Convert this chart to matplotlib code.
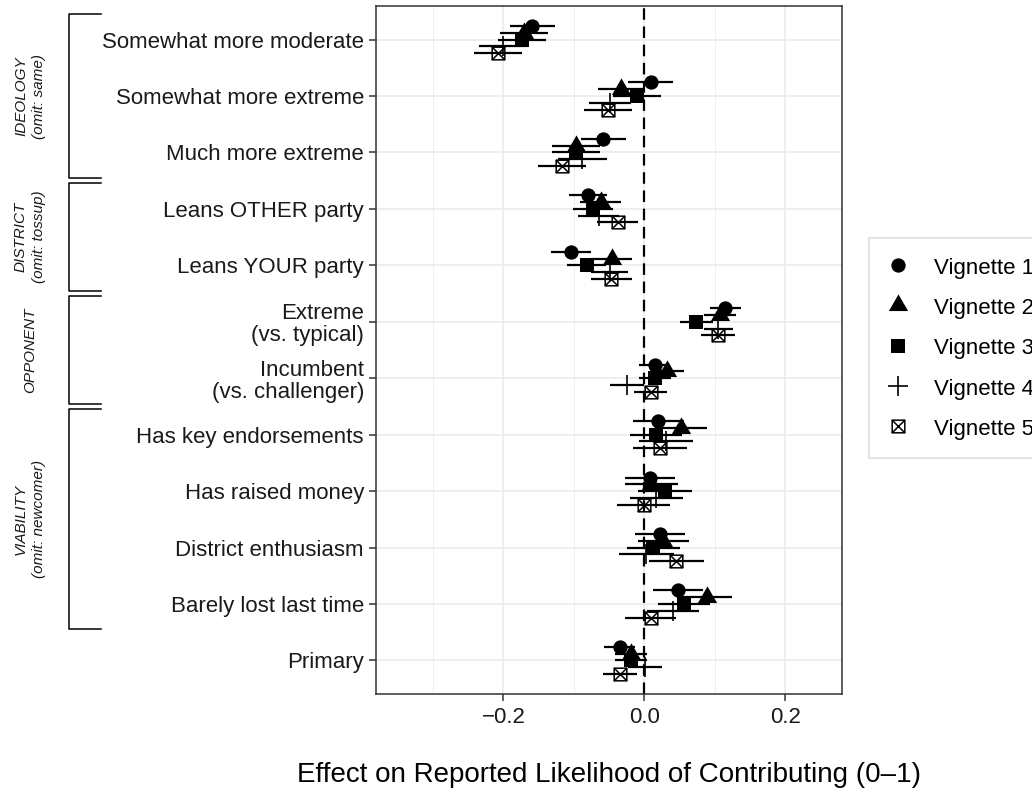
import matplotlib
matplotlib.use("Agg")
import matplotlib.pyplot as plt
import matplotlib.transforms as mtransforms
from matplotlib.path import Path
from matplotlib.lines import Line2D
import numpy as np

plt.rcParams['font.family'] = ['Liberation Sans', 'DejaVu Sans']

# attribute levels, top to bottom
categories = [
    "Somewhat more moderate",
    "Somewhat more extreme",
    "Much more extreme",
    "Leans OTHER party",
    "Leans YOUR party",
    "Extreme\n(vs. typical)",
    "Incumbent\n(vs. challenger)",
    "Has key endorsements",
    "Has raised money",
    "District enthusiasm",
    "Barely lost last time",
    "Primary",
]
vignette_labels = ["Vignette 1", "Vignette 2", "Vignette 3", "Vignette 4", "Vignette 5"]

# point estimates
est_v1 = [-0.159, 0.009, -0.058, -0.080, -0.104, 0.115, 0.015, 0.020, 0.008, 0.022, 0.048, -0.035]
est_v2 = [-0.171, -0.033, -0.097, -0.062, -0.046, 0.107, 0.032, 0.052, 0.010, 0.027, 0.089, -0.019]
est_v3 = [-0.174, -0.011, -0.097, -0.073, -0.082, 0.074, 0.015, 0.017, 0.029, 0.013, 0.056, -0.019]
est_v4 = [-0.200, -0.049, -0.088, -0.065, -0.049, 0.105, -0.024, 0.031, 0.017, 0.003, 0.041, 0.001]
est_v5 = [-0.207, -0.052, -0.117, -0.038, -0.047, 0.104, 0.009, 0.022, -0.001, 0.045, 0.009, -0.035]

# half-widths of the confidence intervals
ci_v1 = [0.032, 0.032, 0.032, 0.027, 0.028, 0.022, 0.022, 0.036, 0.036, 0.035, 0.035, 0.022]
ci_v2 = [0.034, 0.033, 0.034, 0.029, 0.029, 0.023, 0.024, 0.037, 0.038, 0.036, 0.036, 0.023]
ci_v3 = [0.034, 0.034, 0.034, 0.028, 0.028, 0.023, 0.023, 0.037, 0.038, 0.037, 0.037, 0.023]
ci_v4 = [0.034, 0.030, 0.035, 0.029, 0.026, 0.021, 0.024, 0.038, 0.038, 0.039, 0.037, 0.024]
ci_v5 = [0.034, 0.034, 0.034, 0.029, 0.029, 0.024, 0.023, 0.038, 0.038, 0.039, 0.036, 0.024]

estimates = [est_v1, est_v2, est_v3, est_v4, est_v5]
intervals = [ci_v1, ci_v2, ci_v3, ci_v4, ci_v5]

# bracket groups on the left: (label, first level, last level)
groups = [
    ("IDEOLOGY\n(omit: same)", 0, 2),
    ("DISTRICT\n(omit: tossup)", 3, 4),
    ("OPPONENT", 5, 6),
    ("VIABILITY\n(omit: newcomer)", 7, 10),
]

# square with an X inside (like R pch 7)
box_x = Path(
    [(-1, -1), (1, -1), (1, 1), (-1, 1), (-1, -1), (-1, -1), (1, 1), (-1, 1), (1, -1)],
    [Path.MOVETO, Path.LINETO, Path.LINETO, Path.LINETO, Path.CLOSEPOLY,
     Path.MOVETO, Path.LINETO, Path.MOVETO, Path.LINETO],
)

marker_styles = [
    dict(marker='o', ms=10.3, mfc='black', mec='black', mew=0),
    dict(marker=(3, 0, 0), ms=16, mfc='black', mec='black', mew=0),
    dict(marker='s', ms=9.4, mfc='black', mec='black', mew=0),
    dict(marker='+', ms=14.5, mfc='none', mec='black', mew=1.2),
    dict(marker=box_x, ms=9.1, mfc='none', mec='black', mew=1.1),
]

fig = plt.figure(figsize=(10.32, 7.94), dpi=100)
ax = fig.add_axes([0.3648, 0.1256, 0.4508, 0.8672])

ypos = np.arange(len(categories))
offsets = (np.arange(5) - 2) * 0.12

# zero reference line
ax.axvline(0, color='black', lw=1.6, dashes=(5.2, 3.0), zorder=2)

# horizontal confidence intervals
for k in range(5):
    est = np.array(estimates[k])
    ci = np.array(intervals[k])
    ax.hlines(ypos + offsets[k], est - ci, est + ci, color='black', lw=1.6, zorder=3)

# point estimates
for k in range(5):
    ax.plot(estimates[k], ypos + offsets[k], ls='none', zorder=4, **marker_styles[k])

ax.set_xlim(-0.38, 0.28)
ax.set_ylim(len(categories) - 0.4, -0.6)

ax.set_xticks([-0.2, 0.0, 0.2])
ax.set_xticklabels(["\u22120.2", "0.0", "0.2"])
ax.set_xticks([-0.3, -0.1, 0.1], minor=True)
ax.set_yticks(ypos)
ax.set_yticklabels(categories)

ax.tick_params(axis='both', which='major', length=5, width=1.1, color='#333333',
               labelsize=16, labelcolor='#1a1a1a', pad=4)
ax.tick_params(axis='x', which='minor', length=0)
for t in ax.get_yticklabels():
    t.set_linespacing(1.05)

ax.set_axisbelow(True)
ax.grid(which='major', color='#ebebeb', lw=1.2)
ax.grid(which='minor', axis='x', color='#ebebeb', lw=0.6)
for sp in ax.spines.values():
    sp.set_color('#333333')
    sp.set_linewidth(1.1)

ax.set_xlabel("Effect on Reported Likelihood of Contributing (0\u20131)", fontsize=20, labelpad=25)

# brackets for the attribute groups, outside the panel
trans = mtransforms.blended_transform_factory(fig.transFigure, ax.transData)
x_vert = 69.3 / 1032
x_end = 100.5 / 1032
x_text = 30 / 1032
for label, first, last in groups:
    top = first - 0.45
    bottom = last + 0.45
    ax.plot([x_end, x_vert, x_vert, x_end], [top, top, bottom, bottom],
            color='black', lw=1.1, transform=trans, clip_on=False)
    ax.text(x_text, (first + last) / 2, label, transform=trans, rotation=90,
            ha='center', va='center', fontsize=11, style='italic',
            linespacing=1.38, color='#1a1a1a')

# legend with markers only
handles = [Line2D([], [], ls='none', **marker_styles[k]) for k in range(5)]
leg = fig.legend(handles, vignette_labels, loc='upper left',
                 bbox_to_anchor=(869.3 / 1032, 1 - 238.3 / 794),
                 fontsize=16, frameon=True, fancybox=False, borderaxespad=0,
                 borderpad=0.8, handlelength=1.0, handleheight=1.0,
                 handletextpad=1.1, labelspacing=0.8)
leg.get_frame().set_edgecolor('#d9d9d9')
leg.get_frame().set_linewidth(1.3)

fig.savefig("out.png", dpi=100)
plt.close(fig)
